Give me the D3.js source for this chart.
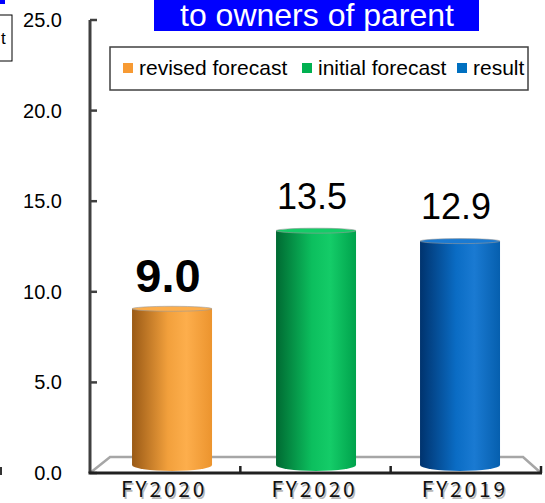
<!DOCTYPE html>
<html><head><meta charset="utf-8">
<script src="https://cdn.jsdelivr.net/npm/d3@7"></script>
<style>body{margin:0;background:#fff}svg{display:block}</style>
</head><body>
<script>
const series = ["revised forecast", "initial forecast", "result"];
const xLabels = ["FY2020", "FY2020", "FY2019"];
const values = [9.0, 13.5, 12.9];
const valueText = ["9.0", "13.5", "12.9"];
const yTicks = [0, 5, 10, 15, 20, 25];
const colors = {
  "revised forecast": ["#9a5a16", "#f2a03c", "#fdae4c", "#ec942e"],
  "initial forecast": ["#006a32", "#0cbf5e", "#14cc68", "#00a24c"],
  "result": ["#00336e", "#0a6cc4", "#1a7ad2", "#065fae"]
};
const legendSwatch = {"revised forecast":"#f79a33","initial forecast":"#00b050","result":"#0070c0"};

const W = 545, H = 503;
const svg = d3.select("body").append("svg").attr("width", W).attr("height", H);
const defs = svg.append("defs");

const y = d3.scaleLinear().domain([0, 25]).range([473, 20]);
const x = d3.scaleBand().domain(series).range([90, 541]).padding(0);

// simple perspective: depth t in [0,1], front = 0
const VX = 328, VY = 283, K = 0.9157;
const proj = (px, py, t) => { const s = 1 - t * (1 - K); return [VX + (px - VX) * s, VY + (py - VY) * s]; };

// artifacts at left edge
svg.append("rect").attr("x", 0).attr("y", 0).attr("width", 5).attr("height", 4).attr("fill", "#0000ff");
svg.append("rect").attr("x", -20).attr("y", 15).attr("width", 32).attr("height", 46).attr("fill", "#fff").attr("stroke", "#000").attr("stroke-width", 1);
svg.append("text").attr("x", 1).attr("y", 44).attr("font-family", "Liberation Sans, Arial, sans-serif").attr("font-size", 17).text("t");
svg.append("rect").attr("x", 0).attr("y", 467).attr("width", 2).attr("height", 8).attr("fill", "#333");

// title
svg.append("rect").attr("x", 154).attr("y", 0).attr("width", 325).attr("height", 31).attr("fill", "#0000ff");
svg.append("text").attr("x", 317).attr("y", 26).attr("text-anchor", "middle")
  .attr("font-family", "Liberation Sans, Arial, sans-serif").attr("font-size", 32).attr("fill", "#fff")
  .text("to owners of parent");

// floor
const fx0 = x.range()[0], fx1 = x.range()[1];
const f = [proj(fx0, y(0), 0), proj(fx0, y(0), 1), proj(fx1, y(0), 1), proj(fx1, y(0), 0)];
svg.append("path").attr("d", "M" + f.map(p => p.join(",")).join(" L"))
  .attr("fill", "none").attr("stroke", "#a6a6a6").attr("stroke-width", 2.5);

// gradients
series.forEach((s, i) => {
  const g = defs.append("linearGradient").attr("id", "g" + i).attr("x1", 0).attr("x2", 1).attr("y1", 0).attr("y2", 0);
  const c = colors[s];
  [[0, c[0]], [0.45, c[1]], [0.68, c[2]], [1, c[3]]].forEach(([o, col]) =>
    g.append("stop").attr("offset", o).attr("stop-color", col));
});

// bars (cylinders at mid depth)
const bw = 80, ryTop = 2.5, ryBot = 6;
const barCx = s => proj(x(s) + x.bandwidth() / 2, 0, 0.5)[0];
series.forEach((s, i) => {
  const cx = barCx(s);
  const top = proj(0, y(values[i]), 0.5)[1], bot = proj(0, y(0), 0.5)[1];
  const gg = svg.append("g");
  gg.append("path")
    .attr("d", `M${cx-bw/2},${top} L${cx-bw/2},${bot} A${bw/2},${ryBot} 0 0 0 ${cx+bw/2},${bot} L${cx+bw/2},${top} Z`)
    .attr("fill", `url(#g${i})`);
  gg.append("ellipse").attr("cx", cx).attr("cy", top).attr("rx", bw/2).attr("ry", ryTop)
    .attr("fill", colors[s][2]).attr("stroke", "#999").attr("stroke-opacity", 0.6).attr("stroke-width", 1);
});

// y axis
svg.append("line").attr("x1", fx0).attr("x2", fx0).attr("y1", y(25)).attr("y2", y(0))
  .attr("stroke", "#404040").attr("stroke-width", 3);
yTicks.forEach(t => {
  svg.append("line").attr("x1", fx0).attr("x2", fx0 + 7).attr("y1", y(t)).attr("y2", y(t))
    .attr("stroke", "#404040").attr("stroke-width", 2.5);
  svg.append("text").attr("x", 62).attr("y", y(t) + 7).attr("text-anchor", "end")
    .attr("font-family", "Liberation Sans, Arial, sans-serif").attr("font-size", 20).attr("fill", "#000")
    .text(t.toFixed(1));
});

// x axis
svg.append("line").attr("x1", fx0 - 1.5).attr("x2", fx1 + 1).attr("y1", y(0)).attr("y2", y(0))
  .attr("stroke", "#202020").attr("stroke-width", 3);
series.forEach(s => {
  const xe = x(s) + x.bandwidth();
  svg.append("line").attr("x1", xe).attr("x2", xe).attr("y1", y(0)).attr("y2", y(0) - 7)
    .attr("stroke", "#202020").attr("stroke-width", 2.5);
});
series.forEach((s, i) => {
  const cx = x(s) + x.bandwidth() / 2 - 1;
  [["#b8b8b8", 1.5], ["#111", 0]].forEach(([col, off]) => {
    svg.append("text").attr("x", cx + off).attr("y", 497 + off).attr("text-anchor", "middle")
      .attr("font-family", "Noto Sans CJK JP, sans-serif").attr("font-size", 21).attr("font-weight", 400)
      .attr("fill", col).attr("letter-spacing", 2.8)
      .text(xLabels[i]);
  });
});

// value labels
series.forEach((s, i) => {
  const cx = barCx(s) - 4;
  const top = proj(0, y(values[i]), 0.5)[1];
  const big = i === 0;
  svg.append("text").attr("x", cx).attr("y", top - (big ? 17 : 22))
    .attr("text-anchor", "middle")
    .attr("font-family", "Liberation Sans, Arial, sans-serif")
    .attr("font-size", big ? 47 : 36).attr("font-weight", big ? "bold" : "normal")
    .text(valueText[i]);
});

// legend
svg.append("rect").attr("x", 110).attr("y", 47).attr("width", 418).attr("height", 43)
  .attr("fill", "#fff").attr("stroke", "#404040").attr("stroke-width", 1.5);
const legX = [123, 302, 457];
series.forEach((s, i) => {
  svg.append("rect").attr("x", legX[i]).attr("y", 63).attr("width", 10).attr("height", 10).attr("fill", legendSwatch[s]);
  svg.append("text").attr("x", legX[i] + 16).attr("y", 75)
    .attr("font-family", "Liberation Sans, Arial, sans-serif").attr("font-size", 21).attr("fill", "#000")
    .text(s);
});
</script>
</body></html>
